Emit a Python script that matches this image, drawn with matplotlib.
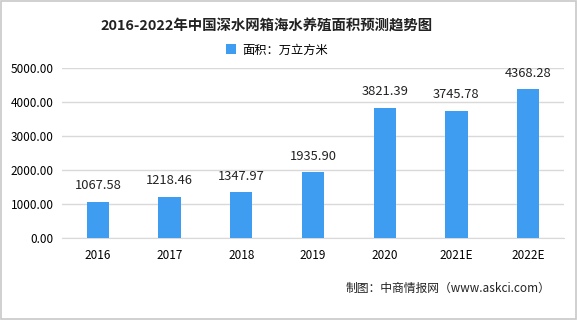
import matplotlib.pyplot as plt
from matplotlib.patches import Rectangle

plt.rcParams['font.family'] = ['Noto Sans CJK SC', 'DejaVu Sans']

years = ['2016', '2017', '2018', '2019', '2020', '2021E', '2022E']
area = [1067.58, 1218.46, 1347.97, 1935.90, 3821.39, 3745.78, 4368.28]
yticks = [0, 1000, 2000, 3000, 4000, 5000]

fig = plt.figure(figsize=(5.77, 3.2), dpi=100)
ax = fig.add_axes([0.1075, 0.256, 0.870, 0.5315])

bars = ax.bar(years, area, width=0.31, color='#3E9DF0', label='面积：万立方米', zorder=3)
for b, v in zip(bars, area):
    ax.annotate(f'{v:.2f}', (b.get_x() + b.get_width() / 2, v), xytext=(0, 7),
                textcoords='offset points', ha='center', va='bottom', fontsize=9.3, color='#222222')

ax.set_ylim(0, 5000)
ax.set_xlim(-0.5, len(years) - 0.5)
ax.set_yticks(yticks)
ax.set_yticklabels([f'{t:.2f}' for t in yticks], fontsize=8.5)
ax.tick_params(axis='x', labelsize=8.5, length=0, pad=8)
ax.tick_params(axis='y', length=0, pad=6)
ax.grid(axis='y', color='#d9d9d9', linewidth=1, zorder=0)
for s in ['top', 'right', 'left']:
    ax.spines[s].set_visible(False)
ax.spines['bottom'].set_color('#d9d9d9')

fig.text(0.462, 0.916, '2016-2022年中国深水网箱海水养殖面积预测趋势图', ha='center', va='center',
         fontsize=10.4, fontweight='bold', color='#222222')
fig.legend(loc='center', bbox_to_anchor=(0.48, 0.844), frameon=False, fontsize=8.8,
           handlelength=0.8, handleheight=0.8, handletextpad=0.5)
fig.text(0.598, 0.10, '制图：中商情报网（www.askci.com）', ha='left', va='center', fontsize=8.5, color='#222222')

fig.patches.append(Rectangle((0.002, 0.004), 0.996, 0.992, transform=fig.transFigure,
                             fill=False, edgecolor='#c8c8c8', linewidth=1.2))

fig.savefig('out.png', dpi=100)
